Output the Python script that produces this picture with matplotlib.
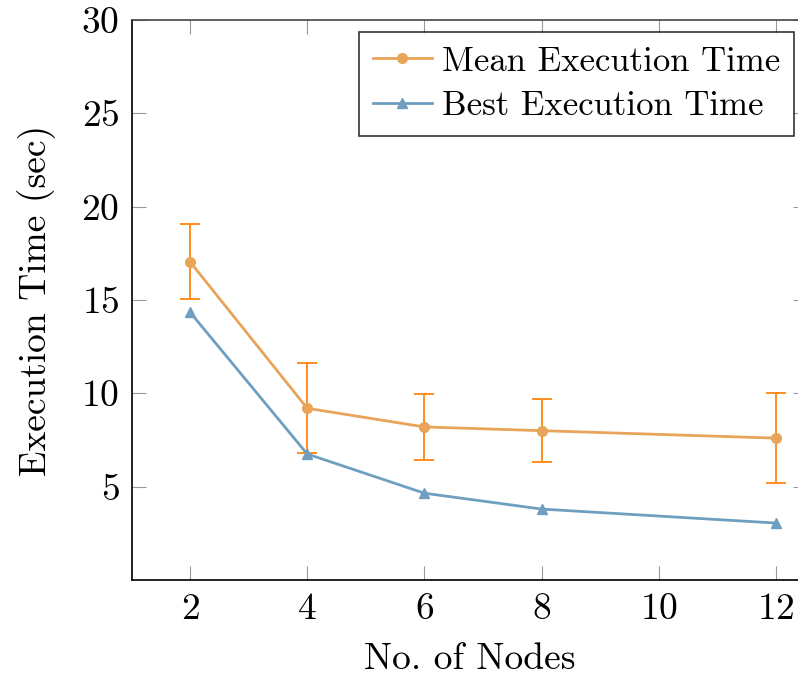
import numpy as np
import matplotlib
matplotlib.use("Agg")
import matplotlib.pyplot as plt

plt.rcParams['font.family'] = ['cmr10', 'DejaVu Serif']
plt.rcParams['axes.formatter.use_mathtext'] = True
plt.rcParams['mathtext.fontset'] = 'cm'

# data
nodes = [2, 4, 6, 8, 12]
mean_time = [17.05, 9.2, 8.2, 8.0, 7.6]
mean_err = [2.0, 2.4, 1.75, 1.7, 2.4]
best_time = [14.35, 6.75, 4.65, 3.8, 3.05]

fig = plt.figure(figsize=(7.98, 6.77), dpi=100)
ax = fig.add_axes([132 / 798, 1 - 580 / 677, 675 / 798, 560 / 677])

orange = "#E8A55A"
blue = "#6F9FC0"

ax.errorbar(nodes, mean_time, yerr=mean_err, fmt="none", ecolor="#FF8C1A",
            elinewidth=1.4, capsize=7.5, capthick=1.4, zorder=2)
ax.plot(nodes, mean_time, color=orange, lw=2, marker="o", ms=7,
        label="Mean Execution Time", zorder=3)
ax.plot(nodes, best_time, color=blue, lw=2, marker="^", ms=7,
        label="Best Execution Time", zorder=3)

ax.set_xlim(1.01, 12.53)
ax.set_ylim(0, 30)
ax.set_xticks([2, 4, 6, 8, 10, 12])
ax.set_yticks([5, 10, 15, 20, 25, 30])
ax.tick_params(direction="in", length=10, width=0.8, color="#999999",
               top=True, right=True, labelsize=27, pad=9)

for s in ["left", "bottom"]:
    ax.spines[s].set_color("black")
    ax.spines[s].set_linewidth(1.2)
for s in ["top", "right"]:
    ax.spines[s].set_color("#444444")
    ax.spines[s].set_linewidth(1.2)

ax.set_xlabel("No. of Nodes", fontsize=27, labelpad=12)
ax.set_ylabel("Execution Time (sec)", fontsize=27, labelpad=18)

leg = ax.legend(loc="upper left", bbox_to_anchor=(227 / 675, 1 - 12 / 560),
                fontsize=25, frameon=True, fancybox=False, edgecolor="black",
                handlelength=1.7, handletextpad=0.3, borderpad=0.4,
                labelspacing=0.38, borderaxespad=0)
leg.get_frame().set_linewidth(1.2)

fig.savefig("out.png", dpi=100)
